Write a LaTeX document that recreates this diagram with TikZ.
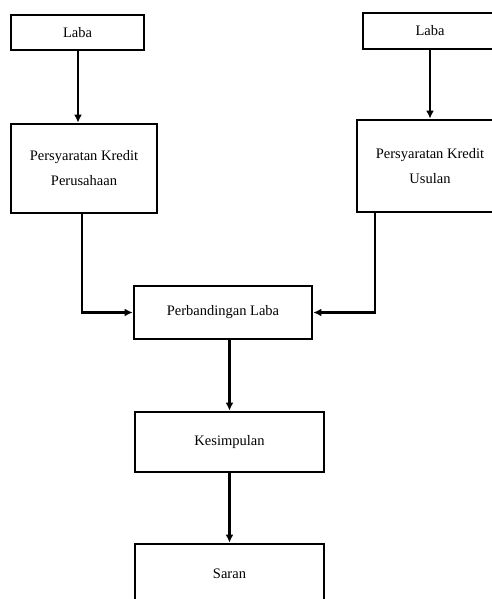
\documentclass[tikz,border=0pt]{standalone}
\usepackage{fontspec}
\setmainfont{Liberation Serif}
\usetikzlibrary{arrows.meta}

\begin{document}
\begin{tikzpicture}[x=1pt, y=-1pt,
    main/.style = {draw, line width=2.8pt, inner sep=0pt, align=center, font=\fontsize{14.5}{25}\selectfont},
    link/.style = {line width=2.2pt, -{Latex[length=8pt,width=8pt]}}]
            \useasboundingbox (0,0) rectangle (492,599);

            \node[main, minimum width=133pt, minimum height=35pt] (LabaP) at (77.5,32.5) {Laba};
            \node[main, minimum width=146pt, minimum height=89pt] (SyaratP) at (84,168.5) {Persyaratan Kredit\\Perusahaan};

            \node[main, minimum width=134pt, minimum height=36pt] (LabaU) at (430,31) {Laba};
            \node[main, minimum width=146pt, minimum height=92pt] (SyaratU) at (430,166) {Persyaratan Kredit\\Usulan};

            \draw[link] (LabaP.south -| 78,0) -- (SyaratP.north -| 78,0);
            \draw[link] (LabaU) -- (SyaratU);

            \node[main, minimum width=178pt, minimum height=53pt] (Banding) at (223,312.5) {Perbandingan Laba};

            \draw[link] ([xshift=-2pt]SyaratP.south) |- (Banding.west);
            \draw[link] ([xshift=-55pt]SyaratU.south) |- (Banding.east);

            \node[main, minimum width=189pt, minimum height=60pt] (Simpul) at (229.5,442) {Kesimpulan};
            \node[main, minimum width=189pt, minimum height=60pt] (Saran) at (229.5,574) {Saran};

            \draw[link] (Banding.south -| Simpul) -- (Simpul.north);
            \draw[link] (Simpul) -- (Saran);
        \end{tikzpicture}
\end{document}
